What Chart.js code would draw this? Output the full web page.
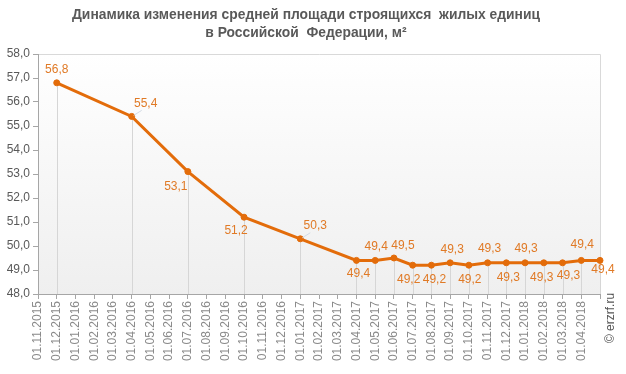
<!DOCTYPE html>
<html>
<head>
<meta charset="utf-8">
<script src="https://cdn.jsdelivr.net/npm/chart.js@4/dist/chart.umd.min.js"></script>
<style>
html,body{margin:0;padding:0;background:#fff;}
#wrap{width:626px;height:374px;position:relative;}
</style>
</head>
<body>
<div id="wrap"><canvas id="c" width="626" height="374"></canvas></div>
<script>
const categories = ['01.11.2015','01.12.2015','01.01.2016','01.02.2016','01.03.2016','01.04.2016','01.05.2016','01.06.2016','01.07.2016','01.08.2016','01.09.2016','01.10.2016','01.11.2016','01.12.2016','01.01.2017','01.02.2017','01.03.2017','01.04.2017','01.05.2017','01.06.2017','01.07.2017','01.08.2017','01.09.2017','01.10.2017','01.11.2017','01.12.2017','01.01.2018','01.02.2018','01.03.2018','01.04.2018','01.05.2018'];
const tickLabels = categories.slice(0, 30).concat(['']);
const values = [null,56.8,null,null,null,55.4,null,null,53.1,null,null,51.2,null,null,50.3,null,null,49.4,49.4,49.5,49.2,49.2,49.3,49.2,49.3,49.3,49.3,49.3,49.3,49.4,49.4];
const yTicks = [48,49,50,51,52,53,54,55,56,57,58];
const titleLines = ['Динамика изменения средней площади строящихся  жилых единиц','в Российской  Федерации, м²'];
const credit = '© erzrf.ru';

// label offsets (px) relative to each point; leader = draw a short connector
const labelStyle = {
  1:{dx:0,dy:-13}, 5:{dx:14,dy:-13,leader:true}, 8:{dx:-12,dy:15}, 11:{dx:-8,dy:13},
  14:{dx:15,dy:-13,leader:true}, 17:{dx:2,dy:13}, 18:{dx:1,dy:-14}, 19:{dx:9,dy:-12},
  20:{dx:-4,dy:14}, 21:{dx:3,dy:14}, 22:{dx:2,dy:-13}, 23:{dx:1,dy:14}, 24:{dx:2,dy:-14},
  25:{dx:2,dy:15}, 26:{dx:1,dy:-14}, 27:{dx:-2,dy:15}, 28:{dx:6,dy:13}, 29:{dx:1,dy:-16},
  30:{dx:3,dy:9}
};

const fmt = v => v.toFixed(1).replace('.', ',');
const LINE = '#e36c0a';
const LABEL = '#e07a26';
const FONT = '"Liberation Sans", Arial, sans-serif';

const decor = {
  id: 'decor',
  beforeDraw(chart) {
    const {ctx, chartArea: a} = chart;
    ctx.save();
    const g = ctx.createLinearGradient(0, a.top, 0, a.bottom);
    g.addColorStop(0, '#ffffff');
    g.addColorStop(1, '#efefef');
    ctx.fillStyle = g;
    ctx.fillRect(a.left, a.top, a.right - a.left, a.bottom - a.top);
    ctx.strokeStyle = '#d9d9d9';
    ctx.lineWidth = 1;
    ctx.beginPath();
    ctx.moveTo(a.left, a.top + 0.5); ctx.lineTo(a.right + 0.5, a.top + 0.5);
    ctx.lineTo(a.right + 0.5, a.bottom);
    ctx.stroke();
    // title
    ctx.fillStyle = '#595959';
    ctx.font = 'bold 14px ' + FONT;
    ctx.textAlign = 'center';
    ctx.textBaseline = 'middle';
    const w = ctx.measureText(titleLines[0]).width;
    const k = 468 / w;
    ctx.translate(306, 0);
    ctx.scale(k, 1);
    ctx.fillText(titleLines[0], 0, 15);
    ctx.fillText(titleLines[1], 0, 33);
    ctx.restore();
  },
  beforeDatasetsDraw(chart) {
    const {ctx, chartArea: a, scales} = chart;
    ctx.save();
    ctx.strokeStyle = '#d6d6d6';
    ctx.lineWidth = 1;
    values.forEach((v, i) => {
      if (v === null) return;
      const x = Math.round(scales.x.getPixelForValue(i)) + 0.5;
      const y = scales.y.getPixelForValue(v);
      ctx.beginPath(); ctx.moveTo(x, y); ctx.lineTo(x, a.bottom); ctx.stroke();
    });
    ctx.restore();
  },
  afterDatasetsDraw(chart) {
    const {ctx, scales} = chart;
    ctx.save();
    ctx.font = '12px ' + FONT;
    ctx.textAlign = 'center';
    ctx.textBaseline = 'middle';
    values.forEach((v, i) => {
      if (v === null) return;
      const x = scales.x.getPixelForValue(i);
      const y = scales.y.getPixelForValue(v);
      const s = labelStyle[i] || {dx:0, dy:-13};
      if (s.leader) {
        ctx.strokeStyle = '#d3dbe5';
        ctx.lineWidth = 1;
        ctx.beginPath(); ctx.moveTo(x + 2, y - 1); ctx.lineTo(x + 10, y - 6); ctx.stroke();
      }
      ctx.fillStyle = LABEL;
      ctx.fillText(fmt(v), x + s.dx, y + s.dy);
    });
    ctx.restore();
  },
  afterDraw(chart) {
    const {ctx} = chart;
    ctx.save();
    ctx.fillStyle = '#555';
    ctx.font = '12px ' + FONT;
    ctx.textAlign = 'center';
    ctx.textBaseline = 'middle';
    ctx.translate(611, 318);
    ctx.rotate(-Math.PI / 2);
    ctx.fillText(credit, 0, 0);
    ctx.restore();
  }
};

new Chart(document.getElementById('c'), {
  type: 'line',
  data: {
    labels: categories,
    datasets: [{
      data: values,
      borderColor: LINE,
      backgroundColor: LINE,
      borderWidth: 3,
      pointRadius: 3,
      pointHoverRadius: 3,
      pointBackgroundColor: LINE,
      pointBorderColor: LINE,
      pointBorderWidth: 1,
      spanGaps: true,
      tension: 0
    }]
  },
  options: {
    responsive: false,
    animation: false,
    events: [],
    layout: { padding: { left: 0, right: 26, top: 54, bottom: 0 } },
    plugins: {
      legend: { display: false },
      tooltip: { enabled: false },
      title: { display: false }
    },
    scales: {
      x: {
        type: 'category',
        offset: false,
        grid: { display: true, drawOnChartArea: false, drawTicks: true, tickLength: 5, color: '#a6a6a6' },
        border: { display: true, color: '#a6a6a6', width: 1 },
        ticks: {
          autoSkip: false,
          maxRotation: 90,
          minRotation: 90,
          padding: 2,
          color: '#8a8a8a',
          font: { family: FONT, size: 12 },
          callback: (val, i) => tickLabels[i]
        },
        afterFit: s => { s.height = 80; }
      },
      y: {
        min: 48,
        max: 58,
        afterBuildTicks: s => { s.ticks = yTicks.map(v => ({ value: v })); },
        grid: { display: true, drawOnChartArea: false, drawTicks: true, tickLength: 5, color: '#a6a6a6' },
        border: { display: true, color: '#a6a6a6', width: 1 },
        ticks: {
          padding: 3,
          color: '#595959',
          font: { family: FONT, size: 12 },
          callback: v => fmt(v)
        },
        afterFit: s => { s.width = 38; }
      }
    }
  },
  plugins: [decor]
});
</script>
</body>
</html>
